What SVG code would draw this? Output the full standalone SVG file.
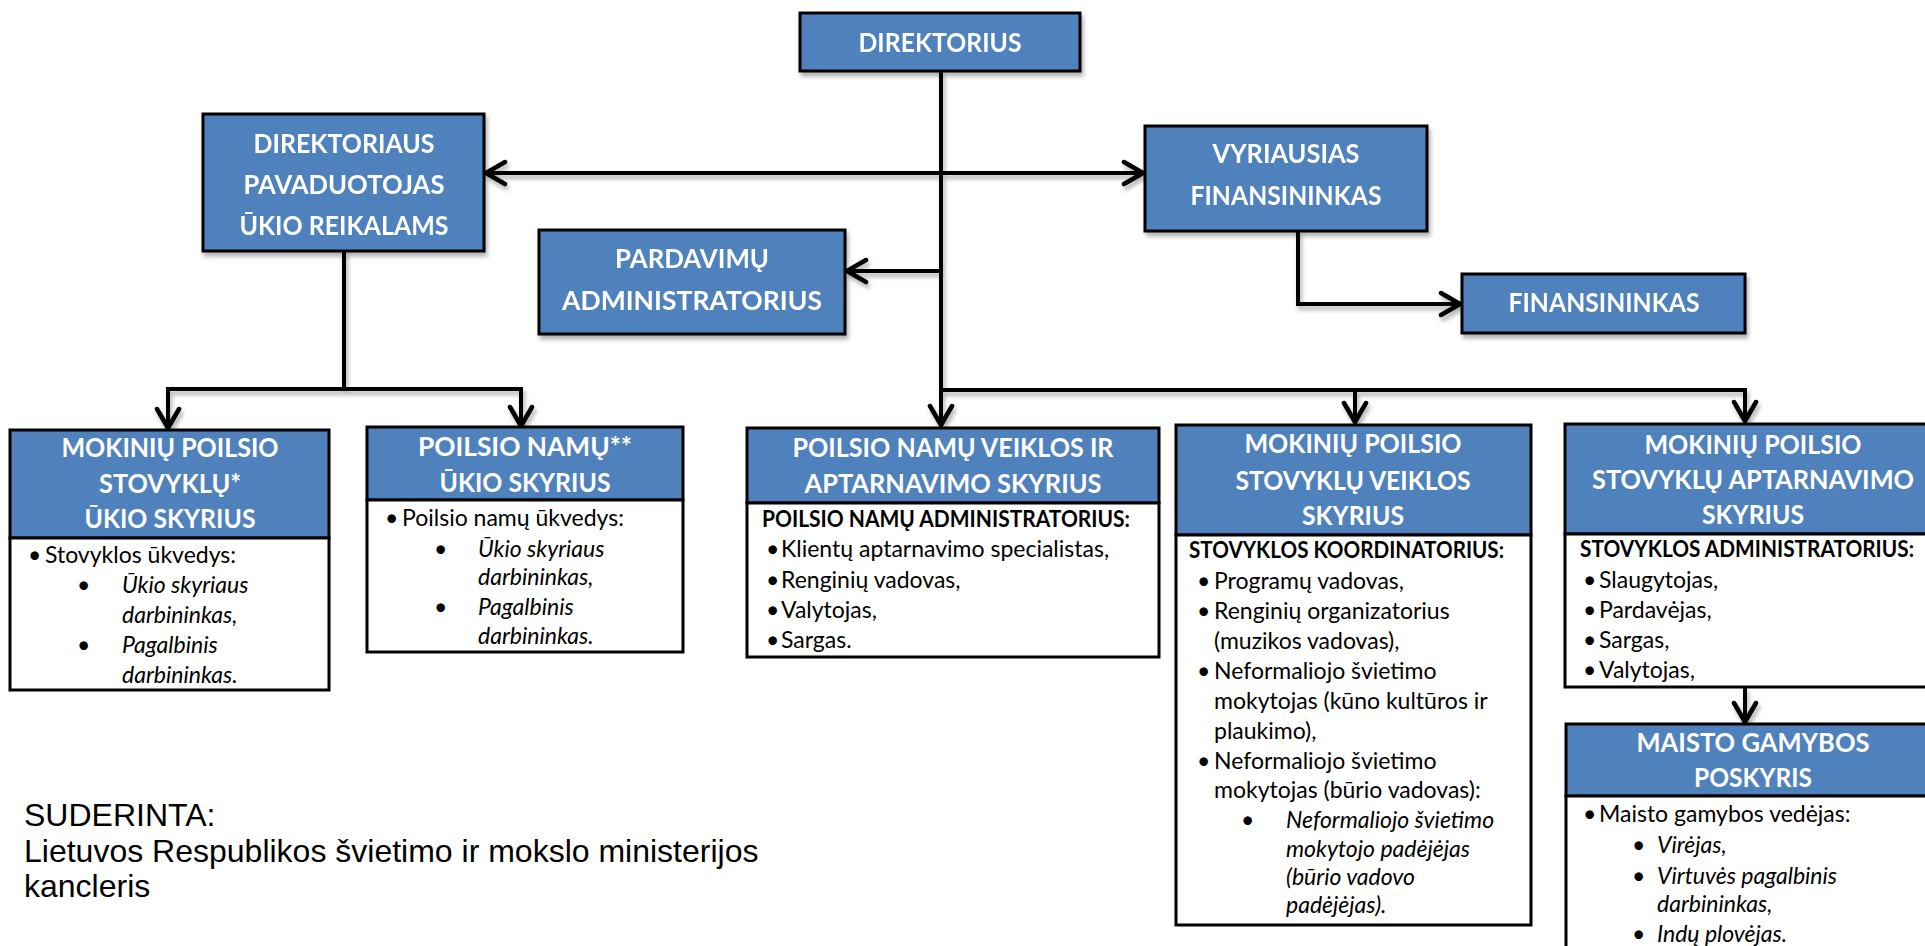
<svg xmlns="http://www.w3.org/2000/svg" width="1925" height="946" viewBox="0 0 1925 946">
<defs>
<style>
.hd{fill:#fff;font-family:Lato,'Open Sans',sans-serif;font-weight:700;font-size:27px;text-anchor:middle}
.bd{fill:#000;font-family:Lato,'Open Sans',sans-serif;font-size:23px}
.bb{font-weight:700;font-size:22.5px}
.it{font-style:italic}
.box{fill:#4F81BD;stroke:#000;stroke-width:3}
.card{fill:#fff;stroke:#000;stroke-width:3}
.ln{fill:none;stroke:#000;stroke-width:4}
.note{font-family:'Liberation Sans',Arial,sans-serif;font-size:32px;fill:#000}
</style>
<filter id="sh" filterUnits="userSpaceOnUse" x="0" y="0" width="1925" height="946"><feDropShadow dx="2" dy="4" stdDeviation="2" flood-color="#000" flood-opacity="0.3"/></filter>
<marker id="ah" markerUnits="userSpaceOnUse" viewBox="0 0 26 28" refX="22" refY="14" markerWidth="26" markerHeight="28" orient="auto-start-reverse"><path d="M3,3 L22,14 L3,25" fill="none" stroke="#000" stroke-width="4.5" stroke-linecap="round" stroke-linejoin="round"/></marker>
</defs>
<rect width="1925" height="946" fill="#fff"/>

<g id="connectors" class="ln" filter="url(#sh)">
<path d="M941,72 V425" marker-end="url(#ah)"/>
<path d="M486,173 H1143" marker-start="url(#ah)" marker-end="url(#ah)"/>
<path d="M941,271 H847" marker-end="url(#ah)"/>
<path d="M1298,231 V304 H1460" marker-end="url(#ah)"/>
<path d="M1355,422 V390 H1745 V421" marker-start="url(#ah)" marker-end="url(#ah)"/>
<path d="M941,390 H1355"/>
<path d="M344,251 V389"/>
<path d="M168,428 V389 H521 V426" marker-start="url(#ah)" marker-end="url(#ah)"/>
<path d="M1745,687 V722" marker-end="url(#ah)"/>
</g>

<g id="n-direktorius" filter="url(#sh)">
<rect class="box" x="800" y="13" width="280" height="58"/>
<text class="hd" x="940" y="52" textLength="163" lengthAdjust="spacingAndGlyphs">DIREKTORIUS</text>
</g>

<g id="n-pavaduotojas" filter="url(#sh)">
<rect class="box" x="203" y="114" width="281" height="137"/>
<text class="hd" x="344" y="153" textLength="181" lengthAdjust="spacingAndGlyphs">DIREKTORIAUS</text>
<text class="hd" x="344" y="194" textLength="201" lengthAdjust="spacingAndGlyphs">PAVADUOTOJAS</text>
<text class="hd" x="344" y="235" textLength="209" lengthAdjust="spacingAndGlyphs">ŪKIO REIKALAMS</text>
</g>

<g id="n-vyriausias" filter="url(#sh)">
<rect class="box" x="1145" y="126" width="282" height="105"/>
<text class="hd" x="1286" y="163" textLength="147" lengthAdjust="spacingAndGlyphs">VYRIAUSIAS</text>
<text class="hd" x="1286" y="205" textLength="191" lengthAdjust="spacingAndGlyphs">FINANSININKAS</text>
</g>

<g id="n-finansininkas" filter="url(#sh)">
<rect class="box" x="1462" y="274" width="283" height="59"/>
<text class="hd" x="1604" y="312" textLength="191" lengthAdjust="spacingAndGlyphs">FINANSININKAS</text>
</g>

<g id="n-pardavimu" filter="url(#sh)">
<rect class="box" x="539" y="230" width="306" height="104"/>
<text class="hd" x="692" y="268" textLength="154" lengthAdjust="spacingAndGlyphs">PARDAVIMŲ</text>
<text class="hd" x="692" y="310" textLength="260" lengthAdjust="spacingAndGlyphs">ADMINISTRATORIUS</text>
</g>

<g id="n-stovyklu-ukio">
<rect class="box" x="10" y="430" width="319" height="108"/>
<rect class="card" x="10" y="538" width="319" height="152"/>
<text class="hd" x="170" y="457" textLength="217" lengthAdjust="spacingAndGlyphs">MOKINIŲ POILSIO</text>
<text class="hd" x="170" y="493" textLength="142" lengthAdjust="spacingAndGlyphs">STOVYKLŲ*</text>
<text class="hd" x="170" y="528" textLength="171" lengthAdjust="spacingAndGlyphs">ŪKIO SKYRIUS</text>
<g class="bd">
<text x="28" y="563">•</text><text x="45" y="563">Stovyklos ūkvedys:</text>
<text x="77" y="593">•</text><text x="77" y="653">•</text>
<text class="it" x="122" y="593">Ūkio skyriaus</text>
<text class="it" x="122" y="623">darbininkas,</text>
<text class="it" x="122" y="653">Pagalbinis</text>
<text class="it" x="122" y="683">darbininkas.</text>
</g>
</g>

<g id="n-poilsio-ukio">
<rect class="box" x="367" y="427" width="316" height="73"/>
<rect class="card" x="367" y="500" width="316" height="152"/>
<text class="hd" x="525" y="456" textLength="214" lengthAdjust="spacingAndGlyphs">POILSIO NAMŲ**</text>
<text class="hd" x="525" y="492" textLength="171" lengthAdjust="spacingAndGlyphs">ŪKIO SKYRIUS</text>
<g class="bd">
<text x="385" y="526">•</text><text x="402" y="526">Poilsio namų ūkvedys:</text>
<text x="434" y="557">•</text><text x="434" y="615">•</text>
<text class="it" x="478" y="557">Ūkio skyriaus</text>
<text class="it" x="478" y="585">darbininkas,</text>
<text class="it" x="478" y="615">Pagalbinis</text>
<text class="it" x="478" y="644">darbininkas.</text>
</g>
</g>

<g id="n-poilsio-veiklos">
<rect class="box" x="747" y="428" width="412" height="75"/>
<rect class="card" x="747" y="503" width="412" height="154"/>
<text class="hd" x="953" y="457" textLength="321" lengthAdjust="spacingAndGlyphs">POILSIO NAMŲ VEIKLOS IR</text>
<text class="hd" x="953" y="493" textLength="297" lengthAdjust="spacingAndGlyphs">APTARNAVIMO SKYRIUS</text>
<g class="bd">
<text class="bb" x="762" y="527" textLength="368" lengthAdjust="spacingAndGlyphs">POILSIO NAMŲ ADMINISTRATORIUS:</text>
<text x="766" y="557">•</text><text x="781" y="557">Klientų aptarnavimo specialistas,</text>
<text x="766" y="588">•</text><text x="781" y="588">Renginių vadovas,</text>
<text x="766" y="618">•</text><text x="781" y="618">Valytojas,</text>
<text x="766" y="648">•</text><text x="781" y="648">Sargas.</text>
</g>
</g>

<g id="n-stovyklu-veiklos">
<rect class="box" x="1176" y="425" width="355" height="110"/>
<rect class="card" x="1176" y="535" width="355" height="390"/>
<text class="hd" x="1353" y="453" textLength="217" lengthAdjust="spacingAndGlyphs">MOKINIŲ POILSIO</text>
<text class="hd" x="1353" y="490" textLength="235" lengthAdjust="spacingAndGlyphs">STOVYKLŲ VEIKLOS</text>
<text class="hd" x="1353" y="525" textLength="102" lengthAdjust="spacingAndGlyphs">SKYRIUS</text>
<g class="bd">
<text class="bb" x="1189" y="558" textLength="315" lengthAdjust="spacingAndGlyphs">STOVYKLOS KOORDINATORIUS:</text>
<text x="1197" y="589">•</text><text x="1214" y="589">Programų vadovas,</text>
<text x="1197" y="619">•</text><text x="1214" y="619">Renginių organizatorius</text>
<text x="1214" y="649">(muzikos vadovas),</text>
<text x="1197" y="679">•</text><text x="1214" y="679">Neformaliojo švietimo</text>
<text x="1214" y="709">mokytojas (kūno kultūros ir</text>
<text x="1214" y="739">plaukimo),</text>
<text x="1197" y="769">•</text><text x="1214" y="769">Neformaliojo švietimo</text>
<text x="1214" y="798">mokytojas (būrio vadovas):</text>
<text x="1241" y="828">•</text>
<text class="it" x="1286" y="828">Neformaliojo švietimo</text>
<text class="it" x="1286" y="857">mokytojo padėjėjas</text>
<text class="it" x="1286" y="885">(būrio vadovo</text>
<text class="it" x="1286" y="913">padėjėjas).</text>
</g>
</g>

<g id="n-stovyklu-aptarnavimo">
<rect class="box" x="1565" y="424" width="380" height="110"/>
<rect class="card" x="1565" y="534" width="380" height="153"/>
<text class="hd" x="1753" y="454" textLength="217" lengthAdjust="spacingAndGlyphs">MOKINIŲ POILSIO</text>
<text class="hd" x="1753" y="489" textLength="322" lengthAdjust="spacingAndGlyphs">STOVYKLŲ APTARNAVIMO</text>
<text class="hd" x="1753" y="524" textLength="102" lengthAdjust="spacingAndGlyphs">SKYRIUS</text>
<g class="bd">
<text class="bb" x="1580" y="557" textLength="334" lengthAdjust="spacingAndGlyphs">STOVYKLOS ADMINISTRATORIUS:</text>
<text x="1583" y="588">•</text><text x="1599" y="588">Slaugytojas,</text>
<text x="1583" y="618">•</text><text x="1599" y="618">Pardavėjas,</text>
<text x="1583" y="648">•</text><text x="1599" y="648">Sargas,</text>
<text x="1583" y="678">•</text><text x="1599" y="678">Valytojas,</text>
</g>
</g>

<g id="n-maisto">
<rect class="box" x="1566" y="724" width="379" height="72"/>
<rect class="card" x="1566" y="796" width="379" height="180"/>
<text class="hd" x="1753" y="752" textLength="233" lengthAdjust="spacingAndGlyphs">MAISTO GAMYBOS</text>
<text class="hd" x="1753" y="787" textLength="118" lengthAdjust="spacingAndGlyphs">POSKYRIS</text>
<g class="bd">
<text x="1583" y="822">•</text><text x="1599" y="822">Maisto gamybos vedėjas:</text>
<text x="1632" y="853">•</text><text x="1632" y="884">•</text><text x="1632" y="942">•</text>
<text class="it" x="1657" y="853">Virėjas,</text>
<text class="it" x="1657" y="884">Virtuvės pagalbinis</text>
<text class="it" x="1657" y="912">darbininkas,</text>
<text class="it" x="1657" y="942">Indų plovėjas.</text>
</g>
</g>

<g id="note">
<text class="note" x="24" y="826">SUDERINTA:</text>
<text class="note" x="24" y="862">Lietuvos Respublikos švietimo ir mokslo ministerijos</text>
<text class="note" x="24" y="897">kancleris</text>
</g>
</svg>
